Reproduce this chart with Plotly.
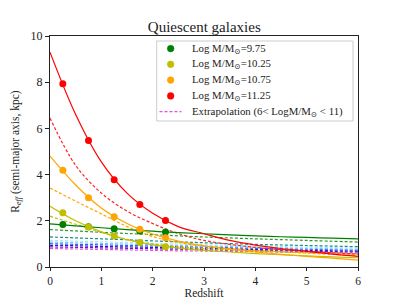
import plotly.graph_objects as go

# --- data ---
z_pts = [0.25, 0.75, 1.25, 1.75, 2.25]
pts_975 = [1.84, 1.74, 1.66, 1.56, 1.52]
pts_1025 = [2.35, 1.73, 1.34, 1.06, 0.88]
pts_1075 = [4.19, 3.00, 2.18, 1.63, 1.27]
pts_1125 = [7.93, 5.48, 3.78, 2.71, 2.01]

z_fit = [0, 0.5, 1.0, 1.5, 2.0, 2.5, 3.0, 3.5, 4.0, 4.5, 5.0, 5.5, 6.0]
fit_975 = [1.87, 1.78, 1.70, 1.62, 1.55, 1.49, 1.44, 1.39, 1.35, 1.31, 1.28, 1.25, 1.22]
fit_1025 = [2.63, 2.00, 1.52, 1.18, 0.96, 0.82, 0.72, 0.65, 0.58, 0.53, 0.48, 0.44, 0.40]
fit_1075 = [4.80, 3.55, 2.55, 1.88, 1.43, 1.12, 0.92, 0.77, 0.65, 0.55, 0.46, 0.38, 0.30]
fit_1125 = [9.30, 6.60, 4.55, 3.20, 2.33, 1.75, 1.44, 1.15, 0.95, 0.80, 0.68, 0.56, 0.46]

z_ext = [0, 0.5, 1.0, 1.5, 2.0, 2.5, 3.0, 4.0, 5.0, 6.0]
ext_masses = [6.0, 6.5, 7.0, 7.5, 8.0, 8.5, 9.0, 9.5, 10.0, 10.5, 11.0]
ext_vals = [
    [0.80, 0.78, 0.76, 0.74, 0.72, 0.70, 0.69, 0.66, 0.63, 0.60],
    [0.87, 0.85, 0.83, 0.81, 0.79, 0.77, 0.75, 0.71, 0.68, 0.65],
    [0.94, 0.92, 0.89, 0.87, 0.85, 0.83, 0.81, 0.76, 0.72, 0.69],
    [1.01, 0.98, 0.96, 0.93, 0.91, 0.88, 0.86, 0.81, 0.77, 0.73],
    [1.08, 1.05, 1.02, 0.99, 0.96, 0.93, 0.91, 0.86, 0.81, 0.77],
    [1.15, 1.12, 1.09, 1.06, 1.02, 0.99, 0.96, 0.91, 0.86, 0.82],
    [1.30, 1.26, 1.22, 1.18, 1.13, 1.09, 1.05, 0.98, 0.93, 0.88],
    [1.62, 1.56, 1.50, 1.45, 1.40, 1.35, 1.30, 1.22, 1.15, 1.08],
    [2.20, 1.85, 1.50, 1.20, 1.00, 0.87, 0.80, 0.70, 0.62, 0.55],
    [3.42, 2.85, 2.30, 1.75, 1.32, 1.06, 0.90, 0.72, 0.60, 0.50],
    [6.45, 4.40, 3.20, 2.42, 1.88, 1.45, 1.15, 0.85, 0.68, 0.56],
]
ext_colors = ["#dd55dd", "#7a10c8", "#2a18c8", "#3060ff", "#80c0ff", "#a0ecf0",
              "#1a8c8c", "#2e9a2e", "#c0c000", "#ffa500", "#ff2020"]

legend_labels = ["Log M/M<sub>⊙</sub>=9.75", "Log M/M<sub>⊙</sub>=10.25",
                 "Log M/M<sub>⊙</sub>=10.75", "Log M/M<sub>⊙</sub>=11.25"]
ext_label = "Extrapolation (6< LogM/M<sub>⊙</sub> < 11)"
series_colors = ["#008000", "#bfbf00", "#ffa500", "#ff0000"]
series_pts = [pts_975, pts_1025, pts_1075, pts_1125]
series_fit = [fit_975, fit_1025, fit_1075, fit_1125]

fig = go.Figure()

for i, vals in enumerate(ext_vals):
    fig.add_trace(go.Scatter(
        x=z_ext, y=vals, mode="lines", line_shape="spline",
        line=dict(color=ext_colors[i], width=1.2, dash="3px,2px"),
        showlegend=False, hoverinfo="skip"))

for fit, col in zip(series_fit, series_colors):
    fig.add_trace(go.Scatter(
        x=z_fit, y=fit, mode="lines", line_shape="spline",
        line=dict(color=col, width=1.2), showlegend=False))
for lab, pts, col in zip(legend_labels, series_pts, series_colors):
    fig.add_trace(go.Scatter(
        x=z_pts, y=pts, mode="markers", name=lab,
        marker=dict(color=col, size=7), showlegend=False))

# ---- manual legend (pixel layout -> paper coords) ----
PX0, PX1, PY0, PY1 = 50.0, 358.0, 35.7, 266.7
def px(p):
    return (p - PX0) / (PX1 - PX0)
def py(p):
    return (PY1 - p) / (PY1 - PY0)

font = "Liberation Serif, DejaVu Serif, serif"
shapes = [dict(type="rect", xref="paper", yref="paper",
               x0=px(156.7), x1=px(353), y0=py(120.7), y1=py(40.7),
               line=dict(color="#cccccc", width=1), fillcolor="white",
               layer="above")]
annotations = []
rows = [48.3, 64.0, 79.8, 95.6, 111.3]
for r, lab, col in zip(rows, legend_labels, series_colors):
    shapes.append(dict(type="circle", xref="paper", yref="paper",
                       x0=px(167.3), x1=px(174.0), y0=py(r + 3.35), y1=py(r - 3.35),
                       line=dict(color=col, width=0.5), fillcolor=col, layer="above"))
    annotations.append(dict(xref="paper", yref="paper", x=px(190), y=py(r),
                            xanchor="left", yanchor="middle", showarrow=False,
                            text=lab, font=dict(size=10.8, family=font, color="#222")))
shapes.append(dict(type="line", xref="paper", yref="paper",
                   x0=px(159.5), x1=px(181.5), y0=py(rows[4]), y1=py(rows[4]),
                   line=dict(color="#dd55dd", width=1.2, dash="3px,2px"), layer="above"))
annotations.append(dict(xref="paper", yref="paper", x=px(190), y=py(rows[4]),
                        xanchor="left", yanchor="middle", showarrow=False,
                        text=ext_label, font=dict(size=10.8, family=font, color="#222")))

fig.update_layout(
    width=399, height=299,
    margin=dict(l=50, r=41, t=36, b=32),
    paper_bgcolor="white", plot_bgcolor="white",
    font=dict(family=font, size=11, color="#222"),
    showlegend=False,
    shapes=shapes, annotations=annotations,
    title=dict(text="Quiescent galaxies", x=0.512, xanchor="center",
               yref="container", y=0.912, yanchor="middle",
               font=dict(size=15, family=font)),
    xaxis=dict(range=[0, 6], tickvals=[0, 1, 2, 3, 4, 5, 6],
               showgrid=False, zeroline=False, showline=True, linecolor="#222",
               linewidth=1, mirror=True, ticks="outside", ticklen=3,
               tickcolor="#222", tickfont=dict(size=11.5), automargin=False,
               title=dict(text="Redshift", font=dict(size=11.5), standoff=1)),
    yaxis=dict(range=[0, 10], tickvals=[0, 2, 4, 6, 8, 10],
               showgrid=False, zeroline=False, showline=True, linecolor="#222",
               linewidth=1, mirror=True, ticks="outside", ticklen=4,
               tickcolor="#222", tickfont=dict(size=12), automargin=False,
               title=dict(text="R<sub><i>eff</i></sub> (semi-major axis, kpc)",
                          font=dict(size=11.5), standoff=8)),
)

fig.write_html("out.html", config={"displayModeBar": False},
               post_script="document.body.style.margin='0';")
